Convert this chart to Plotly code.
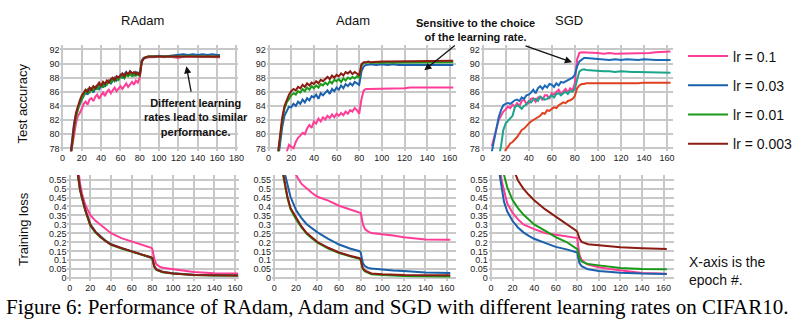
import plotly.graph_objects as go

W, H = 811, 335
def PX(x): return x / W
def PY(y): return 1 - y / H

# ---------------- data ----------------
LR_NAMES = ["lr = 0.1", "lr = 0.03", "lr = 0.01", "lr = 0.003"]
PANEL_TITLES = ["RAdam", "Adam", "SGD"]

E_TOP = [8, 10, 12, 14, 16, 18, 20, 22, 24, 26, 28, 30, 32, 34, 36, 38, 40, 42, 44, 46,
         48, 50, 52, 54, 56, 58, 60, 62, 64, 66, 68, 70, 72, 74, 76, 78, 80,
         82, 84, 86, 88, 90, 95, 100, 105, 110, 115, 120, 125, 130, 135, 140, 145,
         150, 155, 160, 163]

# Test accuracy - RAdam
radam_acc_01 = [76.5, 78.2, 80.0, 81.5, 82.6, 83.0, 83.6, 84.3, 84.6, 84.2, 84.9, 85.1, 84.7, 85.3, 85.6, 85.0, 85.5, 85.9, 85.4, 86.0,
                86.3, 85.8, 86.2, 86.6, 86.1, 86.5, 86.8, 86.4, 86.9, 87.2, 86.7, 87.1, 87.4, 87.0, 87.6, 87.3, 88.0,
                90.3, 90.7, 90.8, 90.9, 90.9, 90.9, 91.0, 90.9, 91.0, 90.9, 90.8, 91.0, 91.0, 90.9, 91.0, 91.0, 90.9, 91.0, 91.0, 90.9]
radam_acc_003 = [76.8, 79.2, 81.5, 82.8, 83.8, 84.3, 84.8, 85.5, 86.0, 85.6, 86.2, 86.4, 85.9, 86.5, 86.9, 86.4, 86.8, 87.2, 86.7, 87.3,
                 87.6, 87.1, 87.6, 88.0, 87.6, 88.1, 88.4, 87.9, 88.5, 88.8, 88.3, 88.9, 88.6, 88.3, 88.8, 88.6, 88.4,
                 90.4, 90.8, 90.9, 91.0, 91.0, 91.0, 91.1, 91.0, 91.1, 91.1, 91.2, 91.3, 91.2, 91.3, 91.2, 91.3, 91.2, 91.3, 91.2, 91.2]
radam_acc_001 = [76.0, 78.6, 80.8, 82.4, 83.5, 84.4, 85.0, 85.4, 85.9, 86.3, 85.8, 86.5, 86.2, 86.7, 86.3, 86.9, 87.0, 86.6, 87.2, 87.0,
                 87.5, 87.3, 87.8, 87.5, 88.0, 87.7, 88.1, 88.3, 87.9, 88.4, 88.2, 88.5, 88.2, 88.6, 88.3, 88.5, 88.2,
                 90.3, 90.7, 90.9, 90.9, 91.0, 91.0, 91.0, 90.9, 91.0, 91.0, 91.0, 91.0, 91.1, 91.0, 91.0, 91.0, 91.0, 91.0, 91.0, 91.0]
radam_acc_0003 = [76.4, 79.0, 81.2, 83.0, 84.0, 84.8, 85.5, 85.9, 86.3, 86.0, 86.6, 86.3, 86.8, 86.5, 87.0, 87.3, 86.8, 87.4, 87.1, 87.6,
                  87.3, 87.8, 88.0, 87.6, 88.2, 88.0, 88.3, 88.6, 88.2, 88.7, 88.5, 88.9, 88.6, 88.8, 88.5, 88.7, 88.3,
                  90.2, 90.7, 90.9, 91.0, 91.0, 91.0, 91.0, 91.0, 91.0, 91.0, 90.9, 91.0, 91.0, 91.0, 91.0, 91.0, 91.0, 91.0, 91.0, 91.0]

# Test accuracy - Adam
adam_acc_01 = [70.0, 71.0, 72.0, 76.5, 77.6, 78.5, 78.2, 78.0, 78.9, 79.5, 79.8, 80.2, 80.0, 80.8, 81.3, 80.9, 81.8, 81.5, 82.2, 81.8,
               82.4, 82.1, 82.6, 82.3, 82.8, 82.4, 82.9, 82.6, 83.0, 82.7, 83.2, 82.9, 83.4, 83.2, 83.7, 83.4, 82.9,
               85.0, 86.2, 86.4, 86.4, 86.4, 86.5, 86.4, 86.5, 86.5, 86.5, 86.5, 86.6, 86.6, 86.5, 86.6, 86.6, 86.6, 86.6, 86.6, 86.6]
adam_acc_003 = [76.0, 78.7, 81.0, 82.6, 83.3, 83.9, 83.8, 84.3, 84.0, 84.6, 84.3, 84.9, 84.5, 85.1, 84.8, 85.4, 85.2, 85.6, 85.0, 85.8,
                85.5, 85.9, 86.2, 85.7, 86.4, 86.1, 86.6, 86.3, 86.9, 86.5, 87.1, 86.8, 87.2, 86.9, 87.4, 87.2, 87.0,
                88.9, 89.6, 89.8, 89.9, 89.9, 89.8, 89.9, 89.8, 89.9, 89.8, 89.8, 89.9, 89.8, 89.8, 89.9, 89.8, 89.8, 89.9, 89.8, 89.8]
adam_acc_001 = [76.5, 79.4, 82.0, 83.6, 84.5, 85.0, 85.5, 85.8, 85.6, 86.1, 85.9, 86.4, 86.1, 86.6, 86.3, 86.8, 86.5, 86.9, 86.6, 87.1,
                86.9, 87.3, 87.0, 87.5, 87.2, 87.7, 87.5, 87.8, 87.4, 87.9, 87.6, 88.0, 87.8, 88.1, 87.9, 88.2, 88.0,
                89.7, 90.1, 90.1, 90.2, 90.1, 90.1, 90.1, 90.1, 90.1, 90.1, 90.2, 90.2, 90.1, 90.2, 90.2, 90.2, 90.1, 90.2, 90.2, 90.2]
adam_acc_0003 = [77.0, 80.0, 82.3, 84.0, 84.9, 85.6, 86.1, 86.4, 86.2, 86.7, 86.5, 87.0, 86.7, 87.2, 86.9, 87.3, 87.1, 87.5, 87.2, 87.7,
                 87.5, 87.8, 88.1, 87.8, 88.3, 88.0, 88.4, 88.2, 88.6, 88.3, 88.8, 88.6, 88.9, 88.5, 88.8, 88.6, 88.3,
                 89.9, 90.2, 90.2, 90.3, 90.2, 90.3, 90.3, 90.3, 90.3, 90.4, 90.4, 90.4, 90.4, 90.4, 90.4, 90.4, 90.4, 90.4, 90.4, 90.4]

# Test accuracy - SGD
sgd_acc_01 = [78.3, 79.6, 81.0, 82.0, 82.6, 83.2, 83.5, 83.9, 83.7, 84.2, 83.9, 84.4, 84.0, 84.7, 84.9, 84.3, 84.4, 85.0, 85.1, 84.6,
              85.2, 85.3, 84.8, 85.5, 85.5, 85.0, 85.8, 85.6, 86.0, 86.3, 85.7, 86.0, 86.4, 85.9, 86.5, 86.2, 87.2,
              90.6, 91.5, 91.6, 91.6, 91.5, 91.5, 91.5, 91.4, 91.5, 91.4, 91.4, 91.5, 91.5, 91.5, 91.5, 91.5, 91.6, 91.6, 91.7, 91.7]
sgd_acc_003 = [77.5, 79.2, 81.0, 82.4, 83.4, 84.1, 84.3, 84.4, 84.3, 84.6, 84.8, 84.9, 84.7, 85.2, 85.0, 85.5, 85.6, 85.9, 86.3, 85.8,
               86.5, 86.8, 86.4, 86.9, 86.6, 87.1, 87.0, 86.7, 87.2, 86.9, 87.4, 87.3, 87.5, 87.7, 87.9, 88.0, 88.4,
               89.6, 90.3, 90.6, 90.8, 90.8, 90.7, 90.6, 90.6, 90.5, 90.6, 90.5, 90.6, 90.5, 90.5, 90.6, 90.5, 90.5, 90.5, 90.5, 90.5]
sgd_acc_001 = [72.0, 73.5, 75.0, 76.8, 78.3, 80.6, 81.5, 81.9, 82.2, 82.6, 83.8, 84.1, 83.9, 83.6, 84.0, 84.2, 84.7, 84.5, 84.9, 85.0,
               84.7, 85.3, 85.1, 84.9, 85.0, 85.3, 85.5, 85.2, 85.7, 85.8, 85.5, 85.8, 86.0, 85.7, 86.1, 86.0, 86.4,
               87.7, 88.9, 89.1, 89.2, 89.1, 89.0, 88.9, 88.9, 88.9, 88.8, 88.9, 88.8, 88.8, 88.8, 88.8, 88.7, 88.8, 88.7, 88.7, 88.7]
sgd_acc_0003 = [70.0, 71.0, 72.0, 73.0, 74.5, 76.0, 77.8, 78.2, 78.7, 78.9, 79.2, 79.6, 80.1, 80.6, 80.8, 81.2, 81.5, 81.8, 82.0, 82.2,
                82.5, 82.6, 83.0, 82.9, 83.4, 83.3, 83.6, 83.8, 83.7, 84.1, 84.3, 84.5, 84.4, 84.7, 84.8, 85.0, 85.4,
                86.5, 86.9, 87.1, 87.1, 87.2, 87.2, 87.2, 87.2, 87.1, 87.1, 87.1, 87.2, 87.2, 87.2, 87.3, 87.3, 87.3, 87.3, 87.3, 87.3]

E_BOT = [4, 6, 8, 10, 12, 15, 20, 25, 30, 35, 40, 50, 60, 70, 79, 80, 81, 82, 84, 87, 90, 100, 110, 120, 140, 163]

radam_loss_01 = [1.0, 0.8, 0.62, 0.53, 0.47, 0.41, 0.352, 0.32, 0.297, 0.272, 0.251, 0.224, 0.205, 0.187, 0.17, 0.162, 0.13, 0.105, 0.078, 0.065, 0.059, 0.05, 0.042, 0.035, 0.028, 0.026]
radam_loss_003 = [1.0, 0.76, 0.58, 0.5, 0.445, 0.385, 0.3, 0.26, 0.232, 0.208, 0.19, 0.168, 0.151, 0.133, 0.118, 0.112, 0.087, 0.066, 0.049, 0.041, 0.036, 0.028, 0.023, 0.02, 0.017, 0.016]
radam_loss_001 = [0.98, 0.74, 0.57, 0.49, 0.44, 0.378, 0.293, 0.254, 0.227, 0.204, 0.186, 0.165, 0.149, 0.131, 0.116, 0.109, 0.084, 0.063, 0.047, 0.039, 0.034, 0.026, 0.021, 0.018, 0.016, 0.015]
radam_loss_0003 = [0.99, 0.75, 0.575, 0.495, 0.442, 0.382, 0.297, 0.257, 0.23, 0.206, 0.188, 0.167, 0.15, 0.132, 0.117, 0.11, 0.085, 0.065, 0.048, 0.04, 0.035, 0.027, 0.022, 0.019, 0.017, 0.016]

adam_loss_01 = [2.0, 1.6, 1.3, 1.1, 0.9, 0.72, 0.577, 0.527, 0.5, 0.475, 0.454, 0.433, 0.404, 0.386, 0.368, 0.364, 0.337, 0.301, 0.274, 0.26, 0.252, 0.247, 0.238, 0.229, 0.216, 0.215]
adam_loss_003 = [1.2, 0.9, 0.7, 0.577, 0.527, 0.454, 0.382, 0.337, 0.301, 0.276, 0.256, 0.22, 0.188, 0.166, 0.151, 0.144, 0.112, 0.085, 0.067, 0.058, 0.054, 0.047, 0.043, 0.04, 0.032, 0.029]
adam_loss_001 = [1.0, 0.72, 0.58, 0.51, 0.45, 0.385, 0.33, 0.285, 0.248, 0.222, 0.198, 0.166, 0.14, 0.122, 0.108, 0.1, 0.073, 0.052, 0.038, 0.029, 0.023, 0.018, 0.015, 0.013, 0.011, 0.01]
adam_loss_0003 = [1.0, 0.73, 0.59, 0.52, 0.46, 0.392, 0.337, 0.29, 0.252, 0.226, 0.202, 0.17, 0.144, 0.126, 0.112, 0.104, 0.077, 0.056, 0.042, 0.033, 0.027, 0.022, 0.019, 0.018, 0.017, 0.017]

sgd_loss_01 = [1.0, 0.78, 0.62, 0.54, 0.49, 0.418, 0.364, 0.328, 0.3, 0.285, 0.274, 0.252, 0.242, 0.235, 0.227, 0.224, 0.175, 0.13, 0.103, 0.085, 0.076, 0.061, 0.052, 0.044, 0.03, 0.025]
sgd_loss_003 = [0.95, 0.72, 0.577, 0.49, 0.427, 0.373, 0.319, 0.283, 0.256, 0.236, 0.22, 0.197, 0.175, 0.161, 0.148, 0.144, 0.112, 0.085, 0.067, 0.058, 0.05, 0.04, 0.035, 0.031, 0.026, 0.024]
sgd_loss_001 = [1.5, 1.1, 0.85, 0.68, 0.577, 0.508, 0.436, 0.391, 0.355, 0.325, 0.3, 0.265, 0.229, 0.202, 0.17, 0.162, 0.139, 0.112, 0.094, 0.085, 0.079, 0.072, 0.065, 0.058, 0.052, 0.05]
sgd_loss_0003 = [2.0, 1.6, 1.3, 1.05, 0.88, 0.75, 0.62, 0.545, 0.5, 0.465, 0.435, 0.385, 0.345, 0.305, 0.265, 0.258, 0.24, 0.222, 0.203, 0.195, 0.19, 0.184, 0.178, 0.173, 0.167, 0.163]

ACC_TICKS = [78, 80, 82, 84, 86, 88, 90, 92]
LOSS_TICKS = [0, 0.05, 0.1, 0.15, 0.2, 0.25, 0.3, 0.35, 0.4, 0.45, 0.5, 0.55]
LOSS_TICK_TEXT = ["0", "0.05", "0.1", "0.15", "0.2", "0.25", "0.3", "0.35", "0.4", "0.45", "0.5", "0.55"]

COLORS = ["#ff3c96", "#1a60aa", "#199a19", "#8b1c12"]
SGD_TOP_COLORS = ["#ff3c96", "#1a6ab8", "#1aa58c", "#e0401e"]

# ---------------- figure ----------------
fig = go.Figure()

panels = [
    ("x", "y", E_TOP, [radam_acc_01, radam_acc_003, radam_acc_001, radam_acc_0003], COLORS, True),
    ("x2", "y2", E_TOP, [adam_acc_01, adam_acc_003, adam_acc_001, adam_acc_0003], COLORS, False),
    ("x3", "y3", E_TOP, [sgd_acc_01, sgd_acc_003, sgd_acc_001, sgd_acc_0003], SGD_TOP_COLORS, False),
    ("x4", "y4", E_BOT, [radam_loss_01, radam_loss_003, radam_loss_001, radam_loss_0003], COLORS, False),
    ("x5", "y5", E_BOT, [adam_loss_01, adam_loss_003, adam_loss_001, adam_loss_0003], COLORS, False),
    ("x6", "y6", E_BOT, [sgd_loss_01, sgd_loss_003, sgd_loss_001, sgd_loss_0003], COLORS, False),
]

for xa, ya, ex, series, cols, show in panels:
    for i, vals in enumerate(series):
        fig.add_trace(go.Scatter(
            x=ex, y=vals, mode="lines", xaxis=xa, yaxis=ya,
            line=dict(color=cols[i], width=2),
            name=LR_NAMES[i], legendgroup=LR_NAMES[i], showlegend=show,
        ))

TICKFONT = dict(family="Liberation Sans, Arial", size=9, color="#222")
def xax(dom, rng, tickmax):
    return dict(domain=[PX(dom[0]), PX(dom[1])], range=rng, tickvals=list(range(0, tickmax + 1, 20)),
                showgrid=True, gridcolor="#c8c8c8", gridwidth=1.5, zeroline=False, showline=False,
                ticks="", tickfont=TICKFONT, fixedrange=True)
def yax(dom, rng, vals, text, anchor):
    return dict(domain=[PY(dom[1]), PY(dom[0])], range=rng, tickvals=vals, ticktext=text,
                showgrid=True, gridcolor="#c8c8c8", gridwidth=1.5, zeroline=False, showline=False,
                ticks="", tickfont=TICKFONT, anchor=anchor, fixedrange=True)

TOP = (44.7, 152)
BOT = (176, 283)
ACC_RANGE = [77.6, 92.6]
LOSS_RANGE = [-0.013, 0.576]
acc_text = [str(v) for v in ACC_TICKS]

fig.update_layout(
    xaxis=dict(xax((60, 239), [-2, 181.5], 180), anchor="y"),
    yaxis=yax(TOP, ACC_RANGE, ACC_TICKS, acc_text, "x"),
    xaxis2=dict(xax((268, 459), [-1.7, 165.5], 160), anchor="y2"),
    yaxis2=yax(TOP, ACC_RANGE, ACC_TICKS, acc_text, "x2"),
    xaxis3=dict(xax((484, 678), [-1.5, 165.3], 160), anchor="y3"),
    yaxis3=yax(TOP, ACC_RANGE, ACC_TICKS, acc_text, "x3"),
    xaxis4=dict(xax((67, 240), [-2.2, 163.8], 160), anchor="y4"),
    yaxis4=yax(BOT, LOSS_RANGE, LOSS_TICKS, LOSS_TICK_TEXT, "x4"),
    xaxis5=dict(xax((273.5, 459.3), [-2, 168.6], 160), anchor="y5"),
    yaxis5=yax(BOT, LOSS_RANGE, LOSS_TICKS, LOSS_TICK_TEXT, "x5"),
    xaxis6=dict(xax((492, 679), [-2.1, 169.8], 160), anchor="y6"),
    yaxis6=yax(BOT, LOSS_RANGE, LOSS_TICKS, LOSS_TICK_TEXT, "x6"),
)

SANS = "Liberation Sans, Arial"
ann = []
for t, cx in zip(PANEL_TITLES, [143, 355, 573]):
    ann.append(dict(text=t, x=PX(cx), y=PY(20), xref="paper", yref="paper", showarrow=False,
                    font=dict(family=SANS, size=13, color="#111"), xanchor="center", yanchor="middle"))
ann.append(dict(text="Test accuracy", x=PX(22), y=PY(104), xref="paper", yref="paper", showarrow=False,
                textangle=-90, font=dict(family=SANS, size=13, color="#111"), xanchor="center", yanchor="middle"))
ann.append(dict(text="Training loss", x=PX(22), y=PY(231), xref="paper", yref="paper", showarrow=False,
                textangle=-90, font=dict(family=SANS, size=13, color="#111"), xanchor="center", yanchor="middle"))
ann.append(dict(text="<b>Different learning<br>rates lead to similar<br>performance.</b>", x=PX(197), y=PY(118),
                xref="paper", yref="paper", showarrow=False, align="center",
                font=dict(family=SANS, size=11, color="#111"), xanchor="center", yanchor="middle"))
ann.append(dict(text="<b>Sensitive to the choice<br>of the learning rate.</b>", x=PX(479), y=PY(29),
                xref="paper", yref="paper", showarrow=False, align="center",
                font=dict(family=SANS, size=11, color="#111"), xanchor="center", yanchor="middle"))
ann.append(dict(text="X-axis is the<br>epoch #.", x=PX(692), y=PY(273), xref="paper", yref="paper",
                showarrow=False, align="left", font=dict(family=SANS, size=14, color="#111"),
                xanchor="left", yanchor="middle"))
ann.append(dict(text="Figure 6: Performance of RAdam, Adam and SGD with different learning rates on CIFAR10.",
                x=PX(400), y=PY(310), xref="paper", yref="paper", showarrow=False,
                font=dict(family="Liberation Serif, Times New Roman", size=21, color="#000"),
                xanchor="center", yanchor="middle"))
# arrows: (head_x, head_y, tail_x, tail_y) in pixels
for hx, hy, tx, ty in [(187, 66, 192, 93), (427, 70, 459, 44), (576, 62, 528, 45)]:
    ann.append(dict(text="", x=PX(hx), y=PY(hy), xref="paper", yref="paper", showarrow=True,
                    ax=tx - hx, ay=ty - hy, arrowhead=2, arrowsize=1.1, arrowwidth=1.3, arrowcolor="#111"))

fig.update_layout(
    width=W, height=H, margin=dict(l=0, r=0, t=0, b=0),
    paper_bgcolor="white", plot_bgcolor="white",
    annotations=ann,
    legend=dict(x=PX(688), y=PY(40), xanchor="left", yanchor="top", tracegroupgap=8,
                itemwidth=40, font=dict(family=SANS, size=14, color="#111"), bgcolor="rgba(0,0,0,0)"),
)

fig.write_html("out.html")
